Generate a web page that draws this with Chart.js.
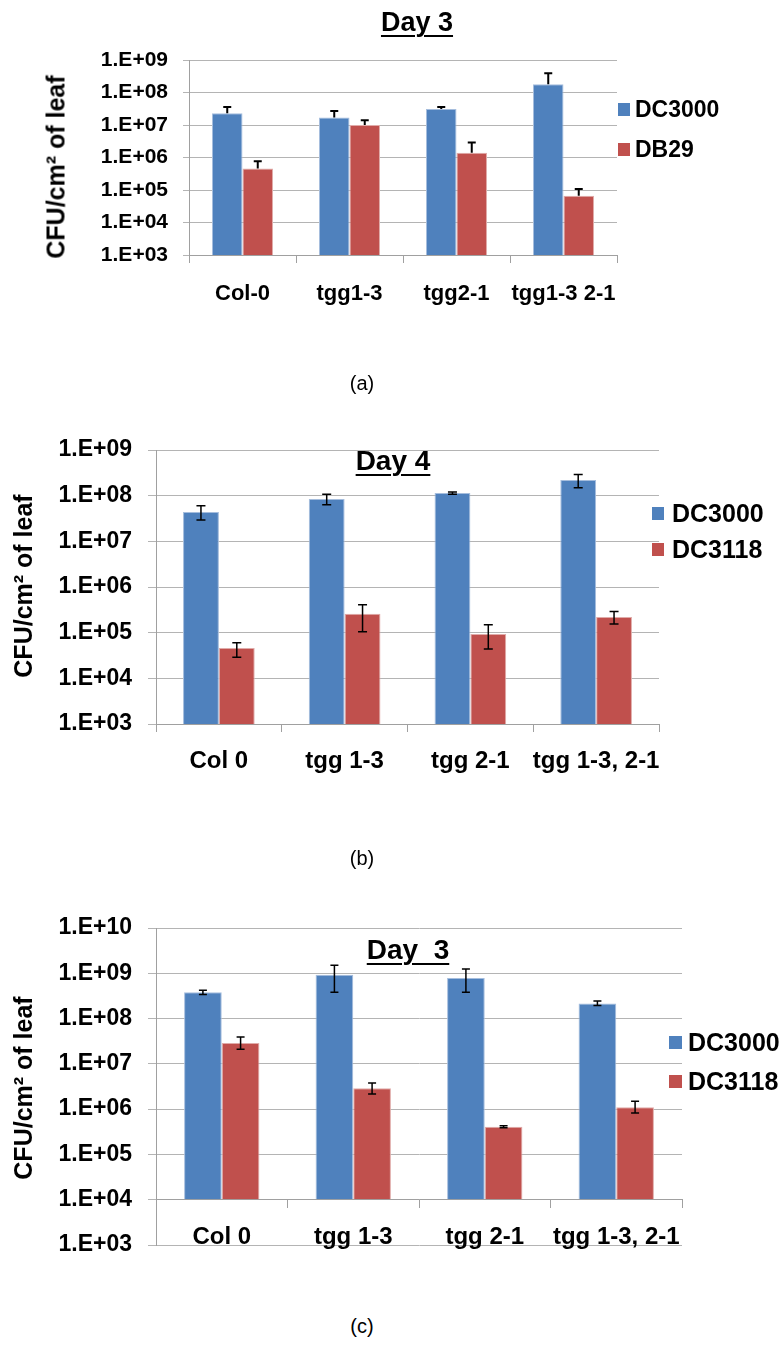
<!DOCTYPE html>
<html>
<head>
<meta charset="utf-8">
<script src="https://cdn.jsdelivr.net/npm/chart.js@4.4.0/dist/chart.umd.min.js"></script>
<style>
  html, body { margin: 0; padding: 0; background: #fff; }
  body {
    width: 783px; height: 1353px; position: relative; overflow: hidden;
    font-family: "Liberation Sans", Arial, sans-serif; color: #000;
  }
  canvas { position: absolute; left: 0; }
  .t { position: absolute; white-space: pre; line-height: 1; }
  .title {
    font-weight: bold; text-decoration: underline;
    text-decoration-thickness: 2px; text-underline-offset: 4px;
    transform: translateX(-50%);
  }
  .ytitle { font-weight: bold; transform: translate(-50%, -50%) rotate(-90deg); }
  .lg { position: absolute; display: flex; align-items: center; font-weight: bold; line-height: 1; white-space: nowrap; }
  .lg i { display: inline-block; }
  .panel { font-size: 20px; transform: translateX(-50%); }
</style>
</head>
<body>
<canvas id="chartA" width="783" height="340" style="top:0px"></canvas>
<canvas id="chartB" width="783" height="400" style="top:400px"></canvas>
<canvas id="chartC" width="783" height="400" style="top:880px"></canvas>

<div class="t title" style="left:417px;top:9px;font-size:27px">Day 3</div>
<div class="t title" style="left:393px;top:447px;font-size:28px">Day 4</div>
<div class="t title" style="left:408px;top:936px;font-size:28px">Day  3</div>

<div class="t ytitle" style="left:56px;top:167px;font-size:25px">CFU/cm² of leaf</div>
<div class="t ytitle" style="left:23px;top:586px;font-size:25px">CFU/cm² of leaf</div>
<div class="t ytitle" style="left:23px;top:1088px;font-size:25px">CFU/cm² of leaf</div>

<div id="legendA"></div>
<div id="legendB"></div>
<div id="legendC"></div>

<div class="t panel" style="left:362px;top:373px">(a)</div>
<div class="t panel" style="left:362px;top:848px">(b)</div>
<div class="t panel" style="left:362px;top:1316px">(c)</div>

<script>
// ====== Data ======
const yTicksAB = [1e3, 1e4, 1e5, 1e6, 1e7, 1e8, 1e9];
const yLabelsAB = ["1.E+03", "1.E+04", "1.E+05", "1.E+06", "1.E+07", "1.E+08", "1.E+09"];
const yTicksC = [1e3, 1e4, 1e5, 1e6, 1e7, 1e8, 1e9, 1e10];
const yLabelsC = ["1.E+03", "1.E+04", "1.E+05", "1.E+06", "1.E+07", "1.E+08", "1.E+09", "1.E+10"];

// (a) Day 3, DC3000 vs DB29 (upper error bars only)
const catsA = ["Col-0", "tgg1-3", "tgg2-1", "tgg1-3 2-1"];
const dc3000A = [2.3e7, 1.7e7, 3.1e7, 1.8e8];
const dc3000A_hi = [3.6e7, 2.7e7, 3.6e7, 3.9e8];
const db29A = [4.6e5, 1.0e7, 1.4e6, 6.7e4];
const db29A_hi = [7.7e5, 1.4e7, 2.9e6, 1.07e5];

// (b) Day 4, DC3000 vs DC3118
const catsB = ["Col 0", "tgg 1-3", "tgg 2-1", "tgg 1-3, 2-1"];
const dc3000B = [4.4e7, 8.5e7, 1.14e8, 2.2e8];
const dc3000B_lo = [2.95e7, 6.3e7, 1.08e8, 1.5e8];
const dc3000B_hi = [6.0e7, 1.07e8, 1.2e8, 2.9e8];
const dc3118B = [4.6e4, 2.6e5, 9.4e4, 2.2e5];
const dc3118B_lo = [2.9e4, 1.05e5, 4.4e4, 1.55e5];
const dc3118B_hi = [6.0e4, 4.1e5, 1.5e5, 2.9e5];

// (c) Day 3, DC3000 vs DC3118
const catsC = ["Col 0", "tgg 1-3", "tgg 2-1", "tgg 1-3, 2-1"];
const dc3000C = [3.8e8, 9.3e8, 7.9e8, 2.15e8];
const dc3000C_lo = [3.4e8, 3.8e8, 3.8e8, 1.95e8];
const dc3000C_hi = [4.2e8, 1.5e9, 1.24e9, 2.45e8];
const dc3118C = [2.9e7, 2.9e6, 4.1e5, 1.1e6];
const dc3118C_lo = [2.1e7, 2.15e6, 3.9e5, 8.2e5];
const dc3118C_hi = [3.9e7, 3.8e6, 4.3e5, 1.5e6];

const BLUE = "#4F81BD", BLUE_EDGE = "#A5BDDD";
const RED = "#C0504D", RED_EDGE = "#E0ABA9";
const GRID = "#B4B4B4", AXIS = "#A0A0A0";
const FONT = '"Liberation Sans", Arial, sans-serif';

// ====== Error bars ======
const errorBars = {
  id: "errorBars",
  afterDatasetsDraw(chart, args, o) {
    const ctx = chart.ctx;
    const y = chart.scales.y;
    ctx.save();
    ctx.strokeStyle = "#000";
    ctx.lineWidth = o.width;
    o.sets.forEach((s, di) => {
      const meta = chart.getDatasetMeta(di);
      meta.data.forEach((bar, i) => {
        const top = y.getPixelForValue(s.hi[i]);
        const bot = s.lo ? y.getPixelForValue(s.lo[i]) : bar.y;
        ctx.beginPath();
        ctx.moveTo(bar.x, bot);
        ctx.lineTo(bar.x, top);
        ctx.moveTo(bar.x - o.cap, top);
        ctx.lineTo(bar.x + o.cap, top);
        if (s.lo) {
          ctx.moveTo(bar.x - o.cap, bot);
          ctx.lineTo(bar.x + o.cap, bot);
        }
        ctx.stroke();
      });
    });
    ctx.restore();
  },
};

function build(id, c) {
  return new Chart(document.getElementById(id), {
    type: "bar",
    data: {
      labels: c.labels,
      datasets: c.series.map((s) => ({
        label: s.name,
        data: s.values,
        backgroundColor: s.color,
        borderColor: s.edge,
        borderWidth: 1,
        base: c.base,
        categoryPercentage: c.catPct,
        barPercentage: 1,
      })),
    },
    options: {
      responsive: false,
      animation: false,
      devicePixelRatio: 1,
      layout: { padding: c.pad },
      plugins: {
        legend: { display: false },
        tooltip: { enabled: false },
        errorBars: { sets: c.err, width: c.errW, cap: c.cap },
      },
      scales: {
        x: {
          position: c.xPos,
          grid: { drawOnChartArea: false, drawTicks: true, tickLength: 8, color: AXIS, offset: true },
          border: { color: AXIS, width: 1 },
          ticks: {
            color: "#000", padding: c.xPad, maxRotation: 0, autoSkip: false,
            font: { family: FONT, size: c.xFont, weight: "bold" },
          },
          afterFit: (s) => { s.height = c.xH; },
        },
        y: {
          type: "logarithmic",
          min: c.yVals[0],
          max: c.yVals[c.yVals.length - 1],
          grid: { color: GRID, lineWidth: 1, drawTicks: true, tickLength: c.yTick },
          border: { color: AXIS, width: 1 },
          ticks: {
            color: "#000", padding: c.yPad,
            font: { family: FONT, size: c.yFont, weight: "bold" },
            callback: (v, i) => c.yLabels[i],
          },
          afterBuildTicks: (s) => { s.ticks = c.yVals.map((v) => ({ value: v })); },
          afterFit: (s) => { s.width = c.yW; },
        },
      },
    },
    plugins: [errorBars],
  });
}

function legend(el, left, centers, items, size, sq) {
  const box = document.getElementById(el);
  items.forEach((it, i) => {
    const row = document.createElement("div");
    row.className = "lg";
    Object.assign(row.style, {
      left: left + "px",
      top: centers[i] - size / 2 + "px",
      height: size + "px",
      fontSize: size + "px",
    });
    row.innerHTML = `<i style="width:${sq[0]}px;height:${sq[1]}px;background:${it.color};margin-right:${sq[2]}px"></i>${it.name}`;
    box.appendChild(row);
  });
}

// ====== Charts ======
build("chartA", {
  labels: catsA,
  series: [
    { name: "DC3000", values: dc3000A, color: BLUE, edge: BLUE_EDGE },
    { name: "DB29", values: db29A, color: RED, edge: RED_EDGE },
  ],
  err: [{ hi: dc3000A_hi }, { hi: db29A_hi }],
  errW: 2, cap: 4,
  catPct: 0.57,
  pad: { left: 0, top: 60, right: 166, bottom: 25 },
  xPos: "bottom", xH: 60, xPad: 18, xFont: 22,
  yVals: yTicksAB, yLabels: yLabelsAB, yW: 189, yTick: 6, yPad: 15, yFont: 21,
});

build("chartB", {
  labels: catsB,
  series: [
    { name: "DC3000", values: dc3000B, color: BLUE, edge: BLUE_EDGE },
    { name: "DC3118", values: dc3118B, color: RED, edge: RED_EDGE },
  ],
  err: [
    { lo: dc3000B_lo, hi: dc3000B_hi },
    { lo: dc3118B_lo, hi: dc3118B_hi },
  ],
  errW: 1.5, cap: 4.5,
  catPct: 0.57,
  pad: { left: 0, top: 50, right: 124, bottom: 16 },
  xPos: "bottom", xH: 60, xPad: 15, xFont: 24,
  yVals: yTicksAB, yLabels: yLabelsAB, yW: 156, yTick: 8, yPad: 16, yFont: 23,
});

build("chartC", {
  labels: catsC,
  series: [
    { name: "DC3000", values: dc3000C, color: BLUE, edge: BLUE_EDGE },
    { name: "DC3118", values: dc3118C, color: RED, edge: RED_EDGE },
  ],
  err: [
    { lo: dc3000C_lo, hi: dc3000C_hi },
    { lo: dc3118C_lo, hi: dc3118C_hi },
  ],
  errW: 1.5, cap: 4,
  catPct: 0.573,
  base: 1e4,
  pad: { left: 0, top: 48, right: 101, bottom: 35 },
  xPos: { y: 1e4 }, xH: 60, xPad: 15, xFont: 24,
  yVals: yTicksC, yLabels: yLabelsC, yW: 156, yTick: 8, yPad: 16, yFont: 23,
});

legend("legendA", 618, [109.5, 149.5], [
  { name: "DC3000", color: BLUE }, { name: "DB29", color: RED },
], 23, [12, 13, 5]);
legend("legendB", 652, [513, 549.5], [
  { name: "DC3000", color: BLUE }, { name: "DC3118", color: RED },
], 25, [12, 13, 8]);
legend("legendC", 669, [1042, 1081], [
  { name: "DC3000", color: BLUE }, { name: "DC3118", color: RED },
], 25, [13, 13, 6]);
</script>
</body>
</html>
